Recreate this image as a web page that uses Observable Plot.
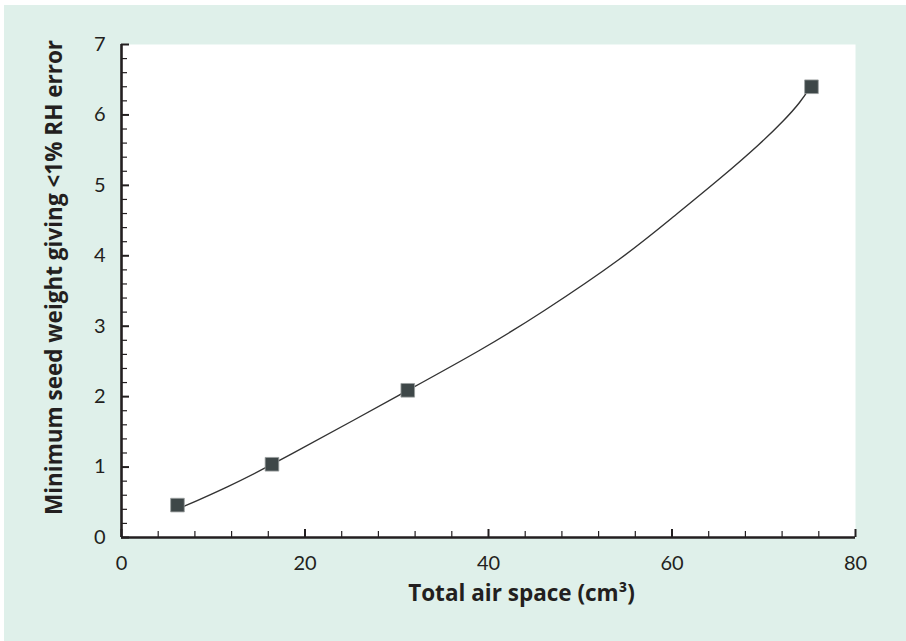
<!DOCTYPE html>
<html>
<head>
<meta charset="utf-8">
<script src="https://cdn.jsdelivr.net/npm/d3@7"></script>
<script src="https://cdn.jsdelivr.net/npm/@observablehq/plot@0.6"></script>
<style>
  html, body { margin: 0; padding: 0; background: #ffffff; }
  #wrap { padding: 5px 0 0 4px; }
</style>
</head>
<body>
<div id="wrap"></div>
<script>
// Measured data points (total air space cm³ vs minimum seed weight)
const pointX = [6.1, 16.4, 31.2, 75.2];
const pointY = [0.46, 1.04, 2.09, 6.40];

// Fitted curve
const curveX = [5.9, 11.5, 17.3, 31.2, 39.2, 45.7, 54.8, 60.2, 65.3, 69.7, 72.2, 74.0, 75.2];
const curveY = [0.39, 0.71, 1.09, 2.09, 2.66, 3.18, 3.98, 4.56, 5.10, 5.60, 5.92, 6.18, 6.42];

// Tick values
const xMajorTicks = [0, 20, 40, 60, 80];
const xMinorTicks = [4, 8, 12, 16, 24, 28, 32, 36, 44, 48, 52, 56, 64, 68, 72, 76];
const yMajorTicks = [0, 1, 2, 3, 4, 5, 6, 7];
const yMinorTicks = [0.2, 0.4, 0.6, 0.8, 1.2, 1.4, 1.6, 1.8, 2.2, 2.4, 2.6, 2.8, 3.2, 3.4, 3.6, 3.8,
                     4.2, 4.4, 4.6, 4.8, 5.2, 5.4, 5.6, 5.8, 6.2, 6.4, 6.6, 6.8];

const xTitle = "Total air space (cm³)";
const yTitle = "Minimum seed weight giving <1% RH error";

const points = pointX.map((x, i) => ({x, y: pointY[i]}));
const curve = curveX.map((x, i) => ({x, y: curveY[i]}));

const W = 902, H = 636;
const mL = 117, mR = 51, mT = 39, mB = 104;
const plotW = W - mL - mR, plotH = H - mT - mB;
const ink = "#231f20";
const titleFont = "'Open Sans', Lato, sans-serif";

const chart = Plot.plot({
  width: W,
  height: H,
  marginLeft: mL,
  marginRight: mR,
  marginTop: mT,
  marginBottom: mB,
  style: {background: "#dff0ea", fontFamily: "Lato, 'Open Sans', sans-serif", fontSize: "20px", color: ink},
  x: {domain: [0, 80]},
  y: {domain: [0, 7]},
  marks: [
    Plot.frame({fill: "white", stroke: null}),
    // minor and major ticks (inward)
    Plot.tickY(yMinorTicks, {y: d => d, insetRight: plotW - 6, stroke: ink, strokeWidth: 1.2}),
    Plot.tickY(yMajorTicks, {y: d => d, insetRight: plotW - 8, stroke: ink, strokeWidth: 2}),
    Plot.tickX(xMinorTicks, {x: d => d, insetTop: plotH - 6, stroke: ink, strokeWidth: 1.2}),
    Plot.tickX(xMajorTicks, {x: d => d, insetTop: plotH - 8, stroke: ink, strokeWidth: 2}),
    // axis lines
    Plot.ruleX([0], {stroke: ink, strokeWidth: 2.6}),
    Plot.ruleY([0], {stroke: ink, strokeWidth: 2.6}),
    // tick labels
    Plot.axisY(yMajorTicks, {tickSize: 0, tickPadding: 16, label: null, tickFormat: d => d, fill: ink}),
    Plot.axisX(xMajorTicks, {tickSize: 0, tickPadding: 18, label: null, tickFormat: d => d, fill: ink}),
    // fitted curve
    Plot.line(curve, {x: "x", y: "y", curve: "basis", stroke: "#333", strokeWidth: 1.4}),
    // data points
    Plot.dot(points, {x: "x", y: "y", symbol: "square", r: 7.7, fill: "#3e4748", stroke: "#9aa0a0", strokeWidth: 0.8}),
    // axis titles
    Plot.text([xTitle], {frameAnchor: "bottom", text: d => d, textAnchor: "middle", dx: 33, dy: 63, fontWeight: "bold", fontSize: 22.5, fontFamily: titleFont, fill: ink}),
    Plot.text([yTitle], {frameAnchor: "left", text: d => d, textAnchor: "middle", rotate: -90, dx: -67, dy: -13.5, fontWeight: "bold", fontSize: 22.5, fontFamily: titleFont, fill: ink})
  ]
});

document.getElementById("wrap").appendChild(chart);
</script>
</body>
</html>
